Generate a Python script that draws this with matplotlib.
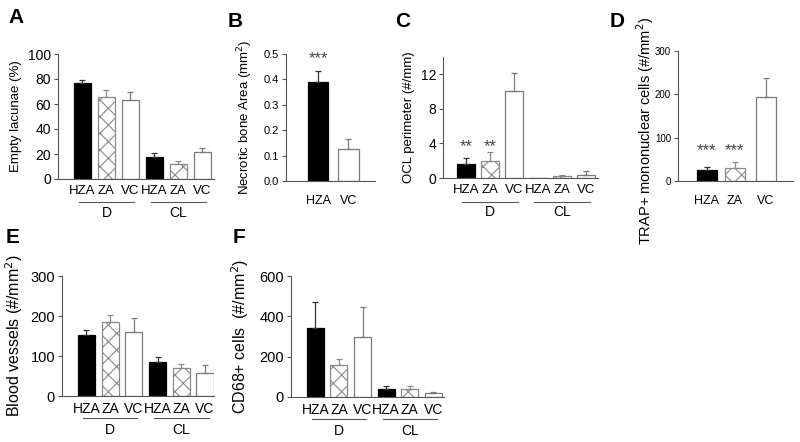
import matplotlib
matplotlib.use('Agg')
import matplotlib.pyplot as plt
import matplotlib.transforms as mtransforms
import numpy as np

plt.rcParams['font.family'] = ['Liberation Sans', 'DejaVu Sans']
plt.rcParams['hatch.linewidth'] = 0.8

W, H = 800, 442

# bar labels
groups6 = ['HZA', 'ZA', 'VC', 'HZA', 'ZA', 'VC']
groups2 = ['HZA', 'VC']
groups3 = ['HZA', 'ZA', 'VC']

# A: empty lacunae (%)
a_vals = [77, 66, 63, 18, 12, 22]
a_err = [2.5, 5, 7, 3, 2.5, 2.5]
# B: necrotic bone area (mm2)
b_vals = [0.39, 0.127]
b_err = [0.043, 0.038]
# C: OCL perimeter (#/mm)
c_vals = [1.6, 2.0, 10.1, 0.0, 0.25, 0.4]
c_err = [0.7, 1.0, 2.1, 0.0, 0.15, 0.4]
# D: TRAP+ mononuclear cells
d_vals = [25, 30, 195]
d_err = [7, 15, 43]
# E: blood vessels
e_vals = [152, 185, 160, 85, 70, 58]
e_err = [13, 17, 35, 12, 10, 20]
# F: CD68+ cells
f_vals = [340, 158, 297, 42, 40, 20]
f_err = [130, 30, 148, 15, 15, 7]

STYLE = {'HZA': dict(color='black', edgecolor='black', hatch=None),
         'ZA': dict(color='white', edgecolor='#8a8a8a', hatch='xx'),
         'VC': dict(color='white', edgecolor='#7a7a7a', hatch=None)}
STAR = dict(ha='center', va='center', fontsize=12, color='#444444')

fig = plt.figure(figsize=(W / 100, H / 100), dpi=100)


def make_axes(x0, ytop, x1, ybot):
    return fig.add_axes([x0 / W, 1 - ybot / H, (x1 - x0) / W, (ybot - ytop) / H])


def draw_bars(ax, labels, vals, errs, pos, width):
    for x, lab, v, e in zip(pos, labels, vals, errs):
        st = STYLE[lab]
        ax.bar(x, v, width, color=st['color'], edgecolor=st['edgecolor'],
               hatch=st['hatch'], linewidth=0.9, zorder=2)
        if e > 0:
            ax.errorbar(x, v, yerr=[[0], [e]], fmt='none',
                        ecolor=st['edgecolor'] if lab != 'HZA' else '#333333',
                        elinewidth=0.9, capsize=2.5, capthick=0.9, zorder=3)


def style_axes(ax, ticksize):
    for s in ['top', 'right']:
        ax.spines[s].set_visible(False)
    ax.spines['left'].set_color('#555555')
    ax.spines['bottom'].set_color('#555555')
    ax.tick_params(axis='y', length=3, width=0.8, color='#555555', labelsize=ticksize, pad=2)
    ax.tick_params(axis='x', length=0, labelsize=ticksize - 0.5, pad=4)


def group_labels(ax, pos, ax_h, line_off, text_off, size):
    trans = mtransforms.blended_transform_factory(ax.transData, ax.transAxes)
    for i, name in enumerate(['D', 'CL']):
        p = pos[i * 3:(i + 1) * 3]
        ax.plot([p[0] - 0.15, p[2] + 0.15], [-line_off / ax_h] * 2, transform=trans,
                color='#555555', lw=0.8, clip_on=False)
        ax.text(p[1], -text_off / ax_h, name, transform=trans, ha='center', va='center',
                fontsize=size)


pos6 = np.arange(6)

# ---- A ----
ax = make_axes(58, 54, 214, 179)
draw_bars(ax, groups6, a_vals, a_err, pos6, 0.71)
ax.set_xlim(-1.02, 5.48)
ax.set_ylim(0, 100)
ax.set_yticks([0, 20, 40, 60, 80, 100])
ax.set_xticks(pos6)
ax.set_xticklabels(groups6)
style_axes(ax, 10)
ax.set_ylabel('Empty lacunae (%)', fontsize=9.5, labelpad=4)
group_labels(ax, pos6, 125, 23, 34, 10)

# ---- B ----
pos2 = np.arange(2)
ax = make_axes(286, 54, 375, 181)
draw_bars(ax, groups2, b_vals, b_err, pos2, 0.66)
ax.set_xlim(-1.05, 1.87)
ax.set_ylim(0, 0.5)
ax.set_yticks([0, 0.1, 0.2, 0.3, 0.4, 0.5])
ax.set_yticklabels(['0.0', '0.1', '0.2', '0.3', '0.4', '0.5'])
ax.set_xticks(pos2)
ax.set_xticklabels(groups2)
style_axes(ax, 8)
ax.tick_params(axis='x', pad=10, labelsize=9)
ax.set_ylabel('Necrotic bone Area (mm$^2$)', fontsize=9.5, labelpad=6)
ax.text(0, 0.48, '***', **STAR)

# ---- C ----
ax = make_axes(443, 57, 598, 178)
draw_bars(ax, groups6, c_vals, c_err, pos6, 0.78)
ax.set_xlim(-0.96, 5.5)
ax.set_ylim(0, 14)
ax.set_yticks([0, 4, 8, 12])
ax.set_xticks(pos6)
ax.set_xticklabels(groups6)
style_axes(ax, 10)
ax.set_ylabel('OCL perimeter (#/mm)', fontsize=9.5, labelpad=4)
ax.text(0, 3.6, '**', **STAR)
ax.text(1, 3.6, '**', **STAR)
group_labels(ax, pos6, 121, 24, 34, 10)

# ---- D ----
pos3 = np.array([0, 0.95, 2.0])
ax = make_axes(678, 51, 793, 181)
draw_bars(ax, groups3, d_vals, d_err, pos3, 0.68)
ax.set_xlim(-0.98, 2.92)
ax.set_ylim(0, 300)
ax.set_yticks([0, 100, 200, 300])
ax.set_xticks(pos3)
ax.set_xticklabels(groups3)
style_axes(ax, 7)
ax.tick_params(axis='x', pad=10, labelsize=9)
fig.text(645 / W, 1 - 131 / H, 'TRAP+ mononuclear cells (#/mm$^2$)', rotation=90,
         ha='center', va='center', fontsize=10.5)
ax.text(0, 70, '***', **STAR)
ax.text(0.95, 70, '***', **STAR)

# ---- E ----
ax = make_axes(62, 276, 214, 396)
draw_bars(ax, groups6, e_vals, e_err, pos6, 0.72)
ax.set_xlim(-1.03, 5.38)
ax.set_ylim(0, 300)
ax.set_yticks([0, 100, 200, 300])
ax.set_xticks(pos6)
ax.set_xticklabels(groups6)
style_axes(ax, 10.5)
ax.set_ylabel('Blood vessels (#/mm$^2$)', fontsize=11.5, labelpad=4)
group_labels(ax, pos6, 120, 22, 34, 10)

# ---- F ----
ax = make_axes(291, 276, 444, 397)
draw_bars(ax, groups6, f_vals, f_err, pos6, 0.72)
ax.set_xlim(-1.03, 5.45)
ax.set_ylim(0, 600)
ax.set_yticks([0, 200, 400, 600])
ax.set_xticks(pos6)
ax.set_xticklabels(groups6)
style_axes(ax, 10.5)
ax.set_ylabel('CD68+ cells  (#/mm$^2$)', fontsize=11.5, labelpad=6)
group_labels(ax, pos6, 121, 22, 34, 10)

# panel letters
for lab, x, y in [('A', 8, 8), ('B', 228, 12), ('C', 395, 12), ('D', 610, 12),
                  ('E', 6, 228), ('F', 233, 228)]:
    fig.text(x / W, 1 - y / H, lab, fontsize=15, fontweight='bold', ha='left', va='top')

fig.savefig('out.png', dpi=100)
